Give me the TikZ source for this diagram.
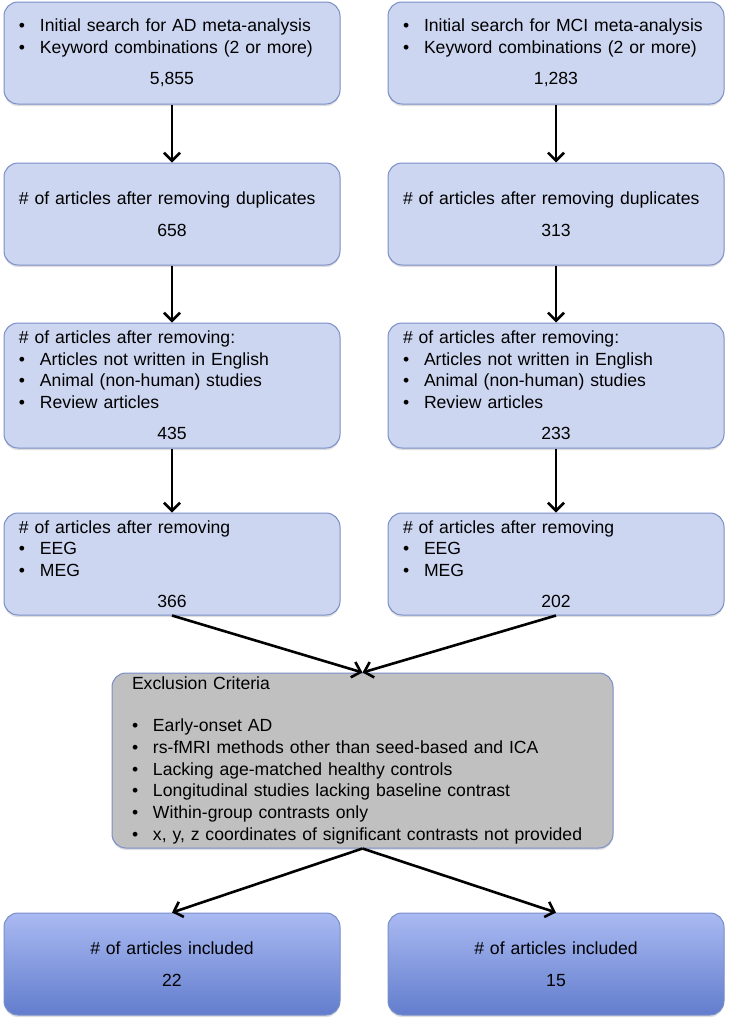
\documentclass[tikz,border=0pt]{standalone}
\usepackage{fontspec}
\setmainfont{Liberation Sans}
\usetikzlibrary{arrows.meta,shadows}

\definecolor{boxfill}{RGB}{205,214,240}
\definecolor{boxline}{RGB}{122,142,200}
\definecolor{exclfill}{RGB}{192,192,192}
\definecolor{fintop}{RGB}{170,186,242}
\definecolor{finbot}{RGB}{98,125,205}

\newcommand{\itm}[1]{\makebox[21pt][l]{\textbullet}\mbox{#1}}
\newcommand{\num}[1]{\\[10pt]\makebox[\hsize]{#1}}

\begin{document}
\begin{tikzpicture}[x=1pt,y=-1pt,
  stagebox/.style={draw=boxline, line width=1pt, fill=boxfill, rounded corners=14pt,
    minimum width=336pt, text width=306pt, inner xsep=15pt, align=left,
    font=\fontsize{17.6}{21.5}\selectfont,
    drop shadow={shadow xshift=0pt, shadow yshift=-2pt, opacity=0.25}},
  exclbox/.style={stagebox, fill=exclfill, minimum width=501pt, text width=461pt,
    inner xsep=20pt, font=\fontsize{17.6}{21.8}\selectfont},
  finalbox/.style={stagebox, top color=fintop, bottom color=finbot},
  arr/.style={line width=2.6pt, -{Straight Barb[length=8pt,width=16pt,line width=2.6pt]}}]

\useasboundingbox (0,0) rectangle (730,1023);

% AD column
\node[stagebox, minimum height=102pt] (ad1) at (172,53)
  {\itm{Initial search for AD meta-analysis}\\\itm{Keyword combinations (2 or more)}\num{5,855}};
\node[stagebox, minimum height=102pt] (ad2) at (172,214)
  {\# of articles after removing duplicates\num{658}};
\node[stagebox, minimum height=125pt] (ad3) at (172,385.5)
  {\# of articles after removing:\\\itm{Articles not written in English}\\
   \itm{Animal (non-human) studies}\\\itm{Review articles}\num{435}};
\node[stagebox, minimum height=102pt] (ad4) at (172,564)
  {\# of articles after removing\\\itm{EEG}\\\itm{MEG}\num{366}};

% MCI column
\node[stagebox, minimum height=102pt] (mci1) at (556,53)
  {\itm{Initial search for MCI meta-analysis}\\\itm{Keyword combinations (2 or more)}\num{1,283}};
\node[stagebox, minimum height=102pt] (mci2) at (556,214)
  {\# of articles after removing duplicates\num{313}};
\node[stagebox, minimum height=125pt] (mci3) at (556,385.5)
  {\# of articles after removing:\\\itm{Articles not written in English}\\
   \itm{Animal (non-human) studies}\\\itm{Review articles}\num{233}};
\node[stagebox, minimum height=102pt] (mci4) at (556,564)
  {\# of articles after removing\\\itm{EEG}\\\itm{MEG}\num{202}};

% exclusion
\node[exclbox, minimum height=175pt] (excl) at (362.5,760.5)
  {Exclusion Criteria\\[20pt]
   \itm{Early-onset AD}\\
   \itm{rs-fMRI methods other than seed-based and ICA}\\
   \itm{Lacking age-matched healthy controls}\\
   \itm{Longitudinal studies lacking baseline contrast}\\
   \itm{Within-group contrasts only}\\
   \itm{x, y, z coordinates of significant contrasts not provided}};

% included
\node[finalbox, minimum height=102pt, align=center] (adfin) at (172,964)
  {\# of articles included\\[10pt]22};
\node[finalbox, minimum height=102pt, align=center] (mcifin) at (556,964)
  {\# of articles included\\[10pt]15};

\draw[arr] (ad1.south) -- (ad2.north);
\draw[arr] (ad2.south) -- (ad3.north);
\draw[arr] (ad3.south) -- (ad4.north);
\draw[arr] (mci1.south) -- (mci2.north);
\draw[arr] (mci2.south) -- (mci3.north);
\draw[arr] (mci3.south) -- (mci4.north);
\draw[arr] (ad4.south) -- (excl.north);
\draw[arr] (mci4.south) -- (excl.north);
\draw[arr] (excl.south) -- (adfin.north);
\draw[arr] (excl.south) -- (mcifin.north);

\end{tikzpicture}
\end{document}
